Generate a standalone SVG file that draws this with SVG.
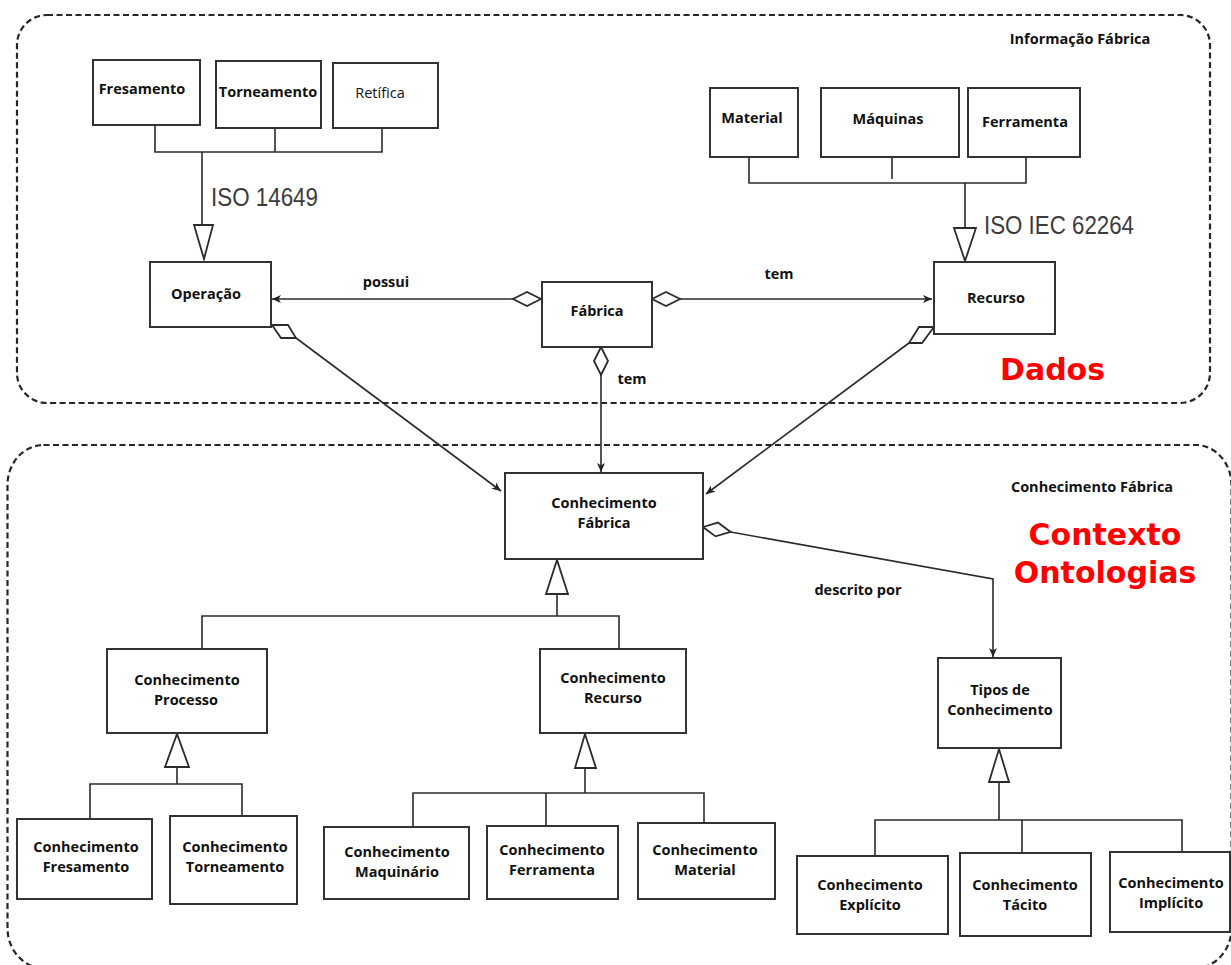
<svg xmlns="http://www.w3.org/2000/svg" width="1231" height="965" viewBox="0 0 1231 965">
  <style>
    .zone { fill: none; stroke: #262626; stroke-width: 2.2; stroke-dasharray: 6 3.5; }
    .box { fill: #ffffff; stroke: #333333; stroke-width: 2; }
    .lbl { font-family: "Open Sans", "DejaVu Sans", sans-serif; font-weight: 700; font-size: 14.5px; fill: #111111; text-anchor: middle; }
    .plain { font-weight: 400; }
    .std { font-family: "Liberation Sans", Arial, sans-serif; font-size: 25px; fill: #3c3c3c; }
    .big { font-family: "DejaVu Sans", sans-serif; font-weight: 700; font-size: 30px; fill: #ff0000; }
    .ln { fill: none; stroke: #2b2b2b; stroke-width: 1.6; }
    .gen { fill: #ffffff; stroke: #2b2b2b; stroke-width: 1.8; }
  </style>
  <defs>
    <marker id="arrow" markerUnits="userSpaceOnUse" markerWidth="12" markerHeight="12" viewBox="-1 -6 11 12" refX="9" refY="0" orient="auto">
      <path d="M0,-4 L9,0 L0,4 L2.5,0 z" fill="#222222"/>
    </marker>
    <marker id="diamond" markerUnits="userSpaceOnUse" markerWidth="32" markerHeight="18" viewBox="-2 -9 32 18" refX="0" refY="0" orient="auto">
      <path d="M0,0 L14,-7 L28,0 L14,7 z" fill="#ffffff" stroke="#2b2b2b" stroke-width="1.8"/>
    </marker>
  </defs>

  <!-- grouping areas -->
  <rect class="zone" x="17" y="15" width="1193" height="388" rx="30" ry="30"/>
  <rect class="zone" x="7.5" y="445" width="1224" height="523" rx="36" ry="40"/>

  <text class="lbl" x="1080" y="44">Informação Fábrica</text>
  <text class="lbl" x="1092" y="492">Conhecimento Fábrica</text>
  <text class="big" x="1000" y="380">Dados</text>
  <text class="big" x="1105" y="545" text-anchor="middle">Contexto</text>
  <text class="big" x="1105" y="583" text-anchor="middle">Ontologias</text>

  <!-- connectors -->
  <g id="connectors">
    <!-- operation types -> Operação -->
    <path class="ln" d="M155,125 V152 H382 V128 M275,128 V152 M202,152 V226"/>
    <polygon class="gen" points="194,225 213,225 204,259"/>
    <text class="std" x="211" y="206" textLength="107" lengthAdjust="spacingAndGlyphs">ISO 14649</text>

    <!-- resource types -> Recurso -->
    <path class="ln" d="M749,157 V183 H1026 V157 M892,157 V179 M965,183 V229"/>
    <polygon class="gen" points="954,228 976,228 965,261"/>
    <text class="std" x="984" y="234" textLength="150" lengthAdjust="spacingAndGlyphs">ISO IEC 62264</text>

    <!-- Fábrica associations -->
    <path class="ln" d="M541,299 L272,299" marker-start="url(#diamond)" marker-end="url(#arrow)"/>
    <text class="lbl" x="386" y="287">possui</text>
    <path class="ln" d="M652,299 L932,299" marker-start="url(#diamond)" marker-end="url(#arrow)"/>
    <text class="lbl" x="779" y="279">tem</text>
    <path class="ln" d="M601,347 L601,472" marker-start="url(#diamond)" marker-end="url(#arrow)"/>
    <text class="lbl" x="632" y="384">tem</text>

    <!-- Operação / Recurso -> Conhecimento Fábrica -->
    <polygon class="gen" points="272,325 288,325 296,338 281,338"/>
    <path class="ln" d="M296,338 L501,491" marker-end="url(#arrow)"/>
    <polygon class="gen" points="919,327 934,327 922,343 909,343"/>
    <path class="ln" d="M909,343 L706,494" marker-end="url(#arrow)"/>

    <!-- descrito por -->
    <path class="ln" d="M703,527 L993,579 L993,657" marker-start="url(#diamond)" marker-end="url(#arrow)"/>
    <text class="lbl" x="858" y="595">descrito por</text>

    <!-- Conhecimento Fábrica specialisations -->
    <path class="ln" d="M557,594 V616 M202,648 V616 H619 V648"/>
    <polygon class="gen" points="546,594 568,594 557,560"/>

    <!-- Conhecimento Processo specialisations -->
    <path class="ln" d="M177,767 V784 M90,819 V784 H242 V816"/>
    <polygon class="gen" points="165,767 189,767 177,734"/>

    <!-- Conhecimento Recurso specialisations -->
    <path class="ln" d="M585,768 V793 M413,827 V793 H704 V823 M546,793 V826"/>
    <polygon class="gen" points="575,768 596,768 585,734"/>

    <!-- Tipos de Conhecimento specialisations -->
    <path class="ln" d="M999,782 V820 M875,856 V820 H1182 V852 M1022,820 V853"/>
    <polygon class="gen" points="989,782 1009,782 999,749"/>
  </g>

  <!-- nodes -->
  <g id="n-fresamento"><rect class="box" x="93" y="60" width="107" height="65"/><text class="lbl" x="142" y="94">Fresamento</text></g>
  <g id="n-torneamento"><rect class="box" x="216" y="61" width="105" height="67"/><text class="lbl" x="268" y="97">Torneamento</text></g>
  <g id="n-retifica"><rect class="box" x="333" y="63" width="105" height="65"/><text class="lbl plain" x="380" y="98">Retífica</text></g>

  <g id="n-material"><rect class="box" x="710" y="88" width="88" height="69"/><text class="lbl" x="752" y="123">Material</text></g>
  <g id="n-maquinas"><rect class="box" x="821" y="88" width="138" height="69"/><text class="lbl" x="888" y="124">Máquinas</text></g>
  <g id="n-ferramenta"><rect class="box" x="968" y="88" width="112" height="69"/><text class="lbl" x="1025" y="127">Ferramenta</text></g>

  <g id="n-operacao"><rect class="box" x="150" y="262" width="121" height="65"/><text class="lbl" x="206" y="299">Operação</text></g>
  <g id="n-fabrica"><rect class="box" x="542" y="282" width="110" height="65"/><text class="lbl" x="597" y="316">Fábrica</text></g>
  <g id="n-recurso"><rect class="box" x="934" y="262" width="121" height="72"/><text class="lbl" x="996" y="303">Recurso</text></g>

  <g id="n-conhecimento-fabrica"><rect class="box" x="505" y="473" width="198" height="86"/><text class="lbl" x="604" y="508">Conhecimento</text><text class="lbl" x="604" y="528">Fábrica</text></g>

  <g id="n-conhecimento-processo"><rect class="box" x="107" y="649" width="160" height="84"/><text class="lbl" x="187" y="685">Conhecimento</text><text class="lbl" x="186" y="705">Processo</text></g>
  <g id="n-conhecimento-recurso"><rect class="box" x="540" y="649" width="146" height="84"/><text class="lbl" x="613" y="683">Conhecimento</text><text class="lbl" x="613" y="703">Recurso</text></g>
  <g id="n-tipos"><rect class="box" x="938" y="658" width="123" height="90"/><text class="lbl" x="1000" y="695">Tipos de</text><text class="lbl" x="1000" y="715">Conhecimento</text></g>

  <g id="n-conh-fresamento"><rect class="box" x="17" y="819" width="135" height="80"/><text class="lbl" x="86" y="852">Conhecimento</text><text class="lbl" x="86" y="872">Fresamento</text></g>
  <g id="n-conh-torneamento"><rect class="box" x="170" y="816" width="127" height="88"/><text class="lbl" x="235" y="852">Conhecimento</text><text class="lbl" x="235" y="872">Torneamento</text></g>

  <g id="n-conh-maquinario"><rect class="box" x="324" y="827" width="145" height="72"/><text class="lbl" x="397" y="857">Conhecimento</text><text class="lbl" x="397" y="877">Maquinário</text></g>
  <g id="n-conh-ferramenta"><rect class="box" x="487" y="826" width="131" height="73"/><text class="lbl" x="552" y="855">Conhecimento</text><text class="lbl" x="552" y="875">Ferramenta</text></g>
  <g id="n-conh-material"><rect class="box" x="638" y="823" width="137" height="76"/><text class="lbl" x="705" y="855">Conhecimento</text><text class="lbl" x="705" y="875">Material</text></g>

  <g id="n-conh-explicito"><rect class="box" x="797" y="856" width="151" height="78"/><text class="lbl" x="870" y="890">Conhecimento</text><text class="lbl" x="870" y="910">Explícito</text></g>
  <g id="n-conh-tacito"><rect class="box" x="960" y="853" width="131" height="83"/><text class="lbl" x="1025" y="890">Conhecimento</text><text class="lbl" x="1025" y="910">Tácito</text></g>
  <g id="n-conh-implicito"><rect class="box" x="1110" y="852" width="120" height="80"/><text class="lbl" x="1171" y="888">Conhecimento</text><text class="lbl" x="1171" y="908">Implícito</text></g>
</svg>
